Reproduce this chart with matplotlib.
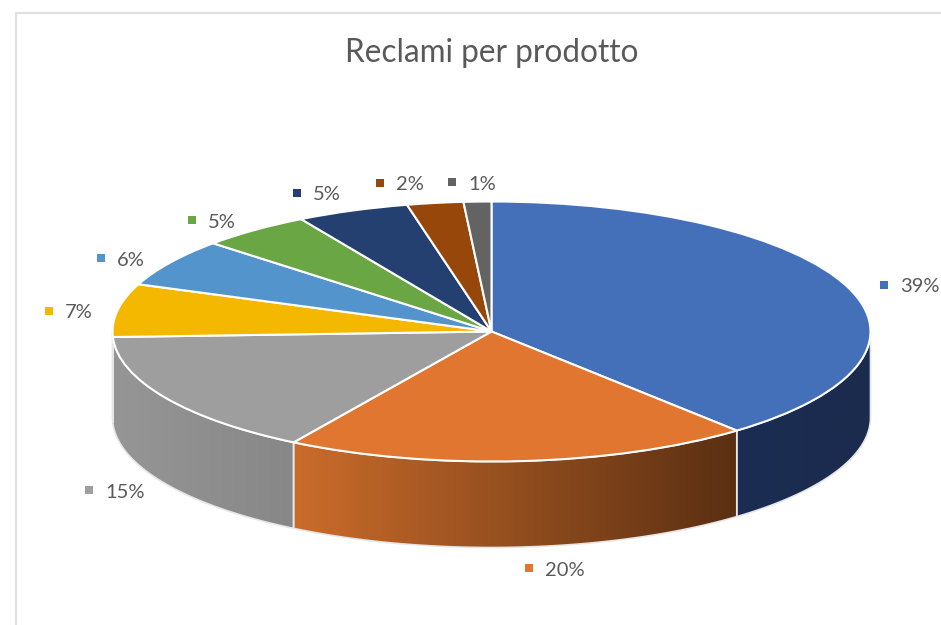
import matplotlib
matplotlib.use('Agg')
import matplotlib.pyplot as plt
import numpy as np
from matplotlib.colors import LinearSegmentedColormap
from matplotlib.patches import Polygon

plt.rcParams['font.family'] = ['Lato', 'DejaVu Sans']

shares = [38.8, 19.95, 15.58, 6.6, 5.95, 4.75, 4.8, 2.4, 1.18]
labels = ['39%', '20%', '15%', '7%', '6%', '5%', '5%', '2%', '1%']
colors = ['#4470BA', '#E0762F', '#9E9E9E', '#F4B800', '#5494CD',
          '#6BA644', '#244070', '#974709', '#636363']
wall_left = ['#1A2D52', '#CB6C2B', '#969696', '#8F7000', '#305A80',
             '#406428', '#162848', '#5A2A05', '#3C3C3C']
wall_right = ['#1A2B4E', '#5A2F12', '#878787', '#8F7000', '#305A80',
              '#406428', '#162848', '#5A2A05', '#3C3C3C']

# marker pixel position of each label
label_x = [884, 529, 89, 49, 101, 192, 297, 380, 452]
label_y = [285, 568, 490, 311, 258, 220, 193, 183, 182]

W, H = 941, 625
cx, cy = 491.5, 331.5
rx, ry = 379, 130
depth = 86 / ry


def to_x(px):
    return (np.asarray(px, dtype=float) - cx) / rx


def to_y(py):
    return (cy - np.asarray(py, dtype=float)) / ry


fig = plt.figure(figsize=(W / 100, H / 100), dpi=100)
ax = fig.add_axes([0, 0, 1, 1])

# side walls, only the part of the rim facing the viewer
edges = np.cumsum([0] + shares) / sum(shares) * 2 * np.pi
for i in range(len(shares)):
    a0 = max(edges[i], np.pi / 2)
    a1 = min(edges[i + 1], 3 * np.pi / 2)
    if a1 <= a0:
        continue
    t = np.linspace(a0, a1, 120)
    x, y = np.sin(t), np.cos(t)
    rim = np.r_[np.c_[x, y], np.c_[x, y - depth][::-1]]
    cmap = LinearSegmentedColormap.from_list('w', [wall_left[i], wall_right[i]])
    x0, x1 = x.min(), x.max()
    y0, y1 = rim[:, 1].min(), rim[:, 1].max()
    im = ax.imshow(np.linspace(0, 1, 256).reshape(1, -1), cmap=cmap, aspect='auto',
                   extent=(x0, x1, y0, y1), zorder=1)
    poly = Polygon(rim, closed=True, facecolor='none', edgecolor='#E6E6E6', lw=1.2, zorder=2)
    ax.add_patch(poly)
    im.set_clip_path(poly)

ax.pie(shares, startangle=90, counterclock=False, radius=1, center=(0, 0),
       colors=colors, wedgeprops={'edgecolor': 'white', 'linewidth': 1.5, 'zorder': 3})

ax.set_aspect('auto')
ax.set_xlim(to_x(0), to_x(W))
ax.set_ylim(to_y(H), to_y(0))
ax.axis('off')

for i, lab in enumerate(labels):
    ax.scatter(to_x(label_x[i]), to_y(label_y[i]), marker='s', s=30, color=colors[i],
               linewidths=0, zorder=4)
    ax.text(to_x(label_x[i] + 16), to_y(label_y[i] + 2), lab, fontsize=14.5, color='#595959',
            ha='left', va='center', zorder=4)

ax.text(to_x(491.5), to_y(53), 'Reclami per prodotto', fontsize=22.7, color='#595959',
        ha='center', va='center')

# chart frame, only top and left are inside the crop
ax.plot(to_x([16, 16, W]), to_y([H, 12.5, 12.5]), color='#E0E0E0', lw=1.5, zorder=0)

fig.savefig('out.png', dpi=100)
